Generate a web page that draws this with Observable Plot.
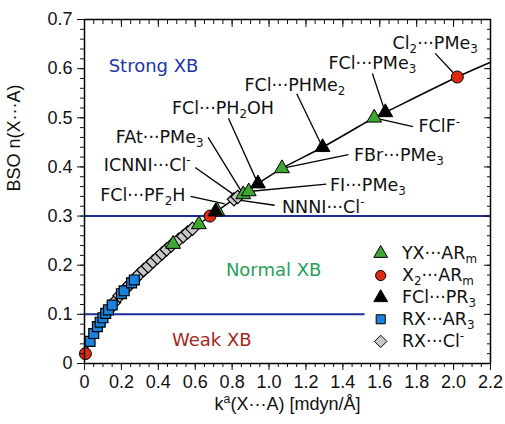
<!DOCTYPE html>
<html>
<head>
<meta charset="utf-8">
<script src="https://cdn.jsdelivr.net/npm/d3@7"></script>
<script src="https://cdn.jsdelivr.net/npm/@observablehq/plot@0.6"></script>
<style>
  html, body { margin: 0; padding: 0; background: #fff; }
  #chart { width: 505px; height: 424px; }
</style>
</head>
<body>
<div id="chart"></div>
<script>
// ---------- data ----------
// RX···Cl⁻ (gray diamonds)
const rxClK = [0.13, 0.16, 0.19, 0.22, 0.245, 0.27, 0.295, 0.32, 0.345, 0.37, 0.395, 0.42, 0.445, 0.47, 0.51, 0.535, 0.56, 0.585, 0.81, 0.83];
const rxClN = [0.109, 0.124, 0.138, 0.151, 0.161, 0.171, 0.181, 0.190, 0.198, 0.207, 0.215, 0.224, 0.232, 0.240, 0.252, 0.259, 0.267, 0.274, 0.334, 0.339];
// RX···AR3 (blue squares)
const rxArK = [0.03, 0.05, 0.07, 0.085, 0.10, 0.115, 0.13, 0.15, 0.20, 0.215, 0.255, 0.27];
const rxArN = [0.045, 0.061, 0.075, 0.084, 0.093, 0.102, 0.109, 0.119, 0.142, 0.148, 0.164, 0.170];
// YX···ARm (green triangles)
const yxK = [0.48, 0.62, 0.72, 0.86, 0.89, 1.07, 1.57];
const yxN = [0.243, 0.283, 0.310, 0.344, 0.350, 0.397, 0.500];
// X2···ARm (red circles)
const x2K = [0.005, 0.68, 2.02];
const x2N = [0.020, 0.300, 0.583];
// FCl···PR3 (black triangles)
const fclK = [0.71, 0.94, 1.29, 1.63];
const fclN = [0.309, 0.366, 0.440, 0.511];

// fitted curve drawn in the reference (points read along it)
const curveK = [0.005, 0.03, 0.06, 0.1, 0.15, 0.2, 0.3, 0.4, 0.5, 0.6, 0.7, 0.8, 0.94, 1.07, 1.29, 1.57, 1.63, 2.02, 2.2];
const curveN = [0.020, 0.045, 0.068, 0.093, 0.119, 0.142, 0.182, 0.217, 0.249, 0.278, 0.305, 0.332, 0.366, 0.397, 0.440, 0.500, 0.511, 0.583, 0.613];

// threshold lines
const thresholdN = [0.1, 0.3];
const thresholdEndK = [1.52, 2.2];

// annotation labels
const labelText   = ["Cl_2···PMe_3", "FCl···PMe_3", "FClF^-", "FCl···PHMe_2", "FBr···PMe_3", "FI···PMe_3", "NNNI···Cl^-", "FCl···PH_2OH", "FAt···PMe_3", "ICNNI···Cl^-", "FCl···PF_2H"];
const labelK      = [1.90, 1.56, 1.81, 1.14, 1.46, 1.33, 1.07, 0.75, 0.645, 0.575, 0.547];
const labelN      = [0.651, 0.610, 0.482, 0.566, 0.423, 0.363, 0.318, 0.519, 0.460, 0.403, 0.342];
const labelAnchor = ["middle", "middle", "start", "middle", "start", "start", "start", "middle", "end", "end", "end"];
const leaderK1    = [1.90, 1.56, 1.78, 1.15, 1.43, 1.31, 1.03, 0.78, 0.67, 0.60, 0.575];
const leaderN1    = [0.631, 0.590, 0.482, 0.549, 0.425, 0.365, 0.322, 0.499, 0.460, 0.399, 0.340];
const leaderK2    = [2.02, 1.63, 1.57, 1.29, 1.07, 0.89, 0.81, 0.94, 0.86, 0.83, 0.76];
const leaderN2    = [0.583, 0.511, 0.500, 0.440, 0.397, 0.350, 0.334, 0.366, 0.344, 0.338, 0.325];

// region labels
const regionText  = ["Strong XB", "Normal XB", "Weak XB"];
const regionK     = [0.374, 1.025, 0.69];
const regionN     = [0.604, 0.190, 0.047];
const regionColor = ["#1f35a5", "#27a05d", "#a5281c"];

// legend
const legendText   = ["YX···AR_m", "X_2···AR_m", "FCl···PR_3", "RX···AR_3", "RX···Cl^-"];
const legendSymbol = ["triangle", "circle", "triangle", "square", "diamond2"];
const legendColor  = ["#3fa535", "#dd2b12", "#000000", "#1a82dc", "#c8c8c8"];
const legendN      = [0.224, 0.179, 0.134, 0.090, 0.045];
const legendMarkK  = 1.605;
const legendTextK  = 1.72;

// ticks
const majorX = d3.range(0, 2.2001, 0.2);
const minorX = d3.range(0, 2.2001, 0.05);
const majorY = d3.range(0, 0.7001, 0.1);
const minorY = d3.range(0, 0.7001, 0.02);

// ---------- build ----------
const zip = (ks, ns) => ks.map((k, i) => ({k, n: ns[i]}));
const labels = labelText.map((t, i) => ({t, k: labelK[i], n: labelN[i], a: labelAnchor[i],
  k1: leaderK1[i], n1: leaderN1[i], k2: leaderK2[i], n2: leaderN2[i]}));
const thresholds = thresholdN.map((n, i) => ({n, k1: 0, k2: thresholdEndK[i]}));
const regions = regionText.map((t, i) => ({t, k: regionK[i], n: regionN[i], c: regionColor[i]}));
const legend = legendText.map((t, i) => ({t, s: legendSymbol[i], c: legendColor[i], n: legendN[i], km: legendMarkK, kt: legendTextK}));

const fmt = d => Math.abs(d) < 1e-9 ? "0" : d.toFixed(1);
const blank = () => "";
const labelFont = "DejaVu Sans, Verdana, sans-serif";

const marks = [
  Plot.ruleY(thresholds, {y: "n", x1: "k1", x2: "k2", stroke: "#1b2d96", strokeWidth: 2}),
  Plot.line(zip(curveK, curveN), {x: "k", y: "n", curve: "catmull-rom", stroke: "#000", strokeWidth: 1.5}),
  Plot.link(labels, {x1: "k1", y1: "n1", x2: "k2", y2: "n2", stroke: "#000", strokeWidth: 1.3}),
  Plot.dot(zip(rxClK, rxClN), {x: "k", y: "n", symbol: "diamond2", r: 6, fill: "#c8c8c8", stroke: "#000", strokeWidth: 1.2}),
  Plot.dot(zip(rxArK, rxArN), {x: "k", y: "n", symbol: "square", r: 5.6, fill: "#1a82dc", stroke: "#000", strokeWidth: 1.2}),
  Plot.dot(zip(yxK, yxN), {x: "k", y: "n", symbol: "triangle", r: 5.5, fill: "#3fa535", stroke: "#000", strokeWidth: 1}),
  Plot.dot(zip(x2K, x2N), {x: "k", y: "n", symbol: "circle", r: 6, fill: "#dd2b12", stroke: "#000", strokeWidth: 1}),
  Plot.dot(zip(fclK, fclN), {x: "k", y: "n", symbol: "triangle", r: 5.5, fill: "#000", stroke: "#000", strokeWidth: 1}),
  ...["start", "middle", "end"].map(a =>
    Plot.text(labels, {filter: d => d.a === a, x: "k", y: "n", text: "t", textAnchor: a,
      fontFamily: labelFont, fontSize: 17.5, fill: "#111"})),
  ...regions.map(r => Plot.text([r], {x: "k", y: "n", text: "t", fill: r.c, fontFamily: labelFont, fontSize: 18})),
  ...legend.map(l => Plot.dot([l], {x: "km", y: "n", symbol: l.s, r: l.s === "diamond2" ? 5.6 : 5.1, fill: l.c, stroke: "#000", strokeWidth: 1})),
  Plot.text(legend, {x: "kt", y: "n", text: "t", textAnchor: "start", fontFamily: labelFont, fontSize: 17.5, fill: "#111"}),
  // axes
  Plot.axisX(majorX, {anchor: "bottom", tickSize: 7, tickPadding: 5, tickFormat: fmt, label: null}),
  Plot.axisX(minorX, {anchor: "bottom", tickSize: 4, tickFormat: blank, label: null}),
  Plot.axisX(majorX, {anchor: "top", tickSize: -7, tickFormat: blank, label: null}),
  Plot.axisX(minorX, {anchor: "top", tickSize: -4, tickFormat: blank, label: null}),
  Plot.axisY(majorY, {anchor: "left", tickSize: 7, tickPadding: 5, tickFormat: fmt, label: null}),
  Plot.axisY(minorY, {anchor: "left", tickSize: 4, tickFormat: blank, label: null}),
  Plot.axisY(majorY, {anchor: "right", tickSize: -7, tickFormat: blank, label: null}),
  Plot.axisY(minorY, {anchor: "right", tickSize: -4, tickFormat: blank, label: null}),
  Plot.frame({stroke: "#000", strokeWidth: 1.5}),
  Plot.text(["BSO n(X···A)"], {frameAnchor: "left", rotate: -90, dx: -70, fontSize: 18, fill: "#111"}),
  Plot.text(["k^a(X···A) [mdyn/Å]"], {frameAnchor: "bottom", dy: 46, fontSize: 18, fill: "#111"})
];

const chart = Plot.plot({
  width: 505, height: 424,
  marginLeft: 84, marginRight: 15, marginTop: 19, marginBottom: 61,
  x: {domain: [0, 2.2]},
  y: {domain: [0, 0.7]},
  style: {fontFamily: "Liberation Sans, Arial, sans-serif", fontSize: "18px", background: "#fff", color: "#111"},
  marks
});
document.getElementById("chart").appendChild(chart);

// sub/superscripts: "_x" -> subscript, "^x" -> superscript
function richify(root) {
  root.querySelectorAll("text").forEach(el => {
    const t = el.textContent;
    if (!/[_^]/.test(t)) return;
    const fs = parseFloat(getComputedStyle(el).fontSize) || 18;
    const tokens = [];
    let buf = "";
    for (let i = 0; i < t.length; i++) {
      const c = t[i];
      if ((c === "_" || c === "^") && i + 1 < t.length) {
        if (buf) tokens.push({s: buf, k: 0});
        buf = "";
        tokens.push({s: t[i + 1], k: c === "_" ? 1 : -1});
        i++;
      } else buf += c;
    }
    if (buf) tokens.push({s: buf, k: 0});
    el.textContent = "";
    let off = 0;
    for (const tk of tokens) {
      const ts = document.createElementNS("http://www.w3.org/2000/svg", "tspan");
      const target = tk.k === 1 ? 0.22 * fs : tk.k === -1 ? -0.38 * fs : 0;
      const d = target - off;
      if (d) ts.setAttribute("dy", d);
      off = target;
      if (tk.k) ts.setAttribute("font-size", 0.68 * fs);
      ts.textContent = tk.s;
      el.appendChild(ts);
    }
  });
}
richify(chart);
</script>
</body>
</html>
